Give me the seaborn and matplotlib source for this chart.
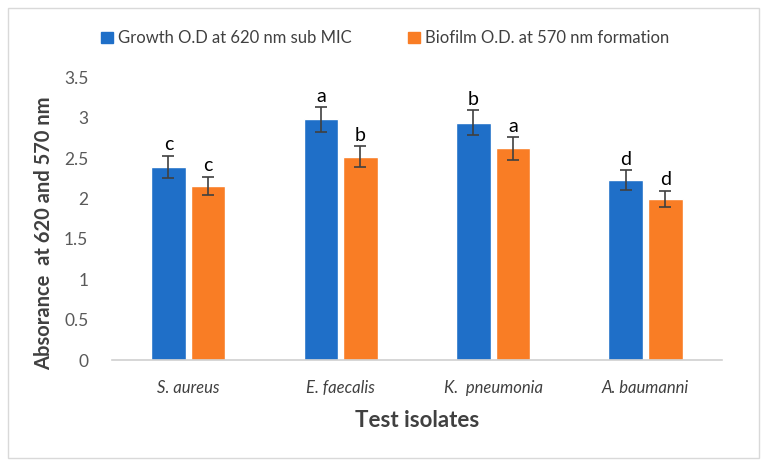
import pandas as pd
import matplotlib
matplotlib.use("Agg")
import matplotlib.pyplot as plt
import matplotlib.patches as mpatches
import seaborn as sns

# Data
isolates = ["S. aureus", "E. faecalis", "K.  pneumonia", "A. baumanni"]
series = ["Growth O.D at 620 nm sub MIC", "Biofilm O.D. at 570 nm formation"]
growth = [2.39, 2.98, 2.94, 2.23]
biofilm = [2.16, 2.52, 2.62, 2.0]
growth_err = [0.14, 0.15, 0.15, 0.12]
biofilm_err = [0.11, 0.13, 0.14, 0.10]
growth_letters = ["c", "a", "b", "d"]
biofilm_letters = ["c", "b", "a", "d"]

colors = ["#1f6fc8", "#f97d25"]

df = pd.DataFrame({
    "isolate": isolates * 2,
    "series": [series[0]] * 4 + [series[1]] * 4,
    "value": growth + biofilm,
    "err": growth_err + biofilm_err,
    "letter": growth_letters + biofilm_letters,
})

sns.set_style("white")
plt.rcParams["font.family"] = ["Lato", "DejaVu Sans"]

fig = plt.figure(figsize=(7.67, 4.66), dpi=100)
ax = fig.add_axes([0.146, 0.227, 0.795, 0.607])

sns.barplot(data=df, x="isolate", y="value", hue="series", palette=colors,
            width=0.52, gap=0.13, errorbar=None, legend=False, ax=ax,
            saturation=1)

# error bars and letters, placed from the drawn bars
for patch, (_, row) in zip(ax.patches, df.iterrows()):
    xc = patch.get_x() + patch.get_width() / 2
    h = patch.get_height()
    ax.errorbar(xc, h, yerr=row["err"], fmt="none", ecolor="#404040",
                elinewidth=1.2, capsize=4, capthick=1.2)
    ax.text(xc, h + row["err"] + 0.03, row["letter"], ha="center", va="bottom",
            fontsize=14, color="black")

ax.set_ylim(0, 3.5)
ax.set_yticks([0, 0.5, 1, 1.5, 2, 2.5, 3, 3.5])
ax.set_yticklabels(["0", "0.5", "1", "1.5", "2", "2.5", "3", "3.5"])
ax.set_xlim(-0.5, 3.5)
ax.tick_params(axis="y", labelsize=12.5, colors="#595959", length=0, pad=17)
ax.tick_params(axis="x", labelsize=12, colors="#404040", length=0, pad=14)
for lbl in ax.get_xticklabels():
    lbl.set_fontstyle("italic")

ax.set_xlabel("Test isolates", fontsize=16, fontweight="bold", color="#404040")
ax.set_ylabel("Absorance  at 620 and 570 nm", fontsize=14.5, fontweight="bold",
              color="#404040")
ax.xaxis.set_label_coords(0.5, -0.175)
ax.yaxis.set_label_coords(-0.095, 0.45)

for s in ["top", "right", "left"]:
    ax.spines[s].set_visible(False)
ax.spines["bottom"].set_color("#d0d0d0")
ax.spines["bottom"].set_linewidth(1.2)

handles = [mpatches.Patch(color=c, label=s) for c, s in zip(colors, series)]
fig.legend(handles=handles, loc="center", bbox_to_anchor=(0.502, 0.918), ncol=2,
           frameon=False, fontsize=12, handlelength=0.7, handleheight=0.7,
           handletextpad=0.3, columnspacing=3.4, labelcolor="#404040")

# outer chart border
fig.patches.append(mpatches.Rectangle((0.011, 0.017), 0.978, 0.966, transform=fig.transFigure,
                                      fill=False, edgecolor="#d9d9d9", linewidth=1))

fig.savefig("out.png", dpi=100)
